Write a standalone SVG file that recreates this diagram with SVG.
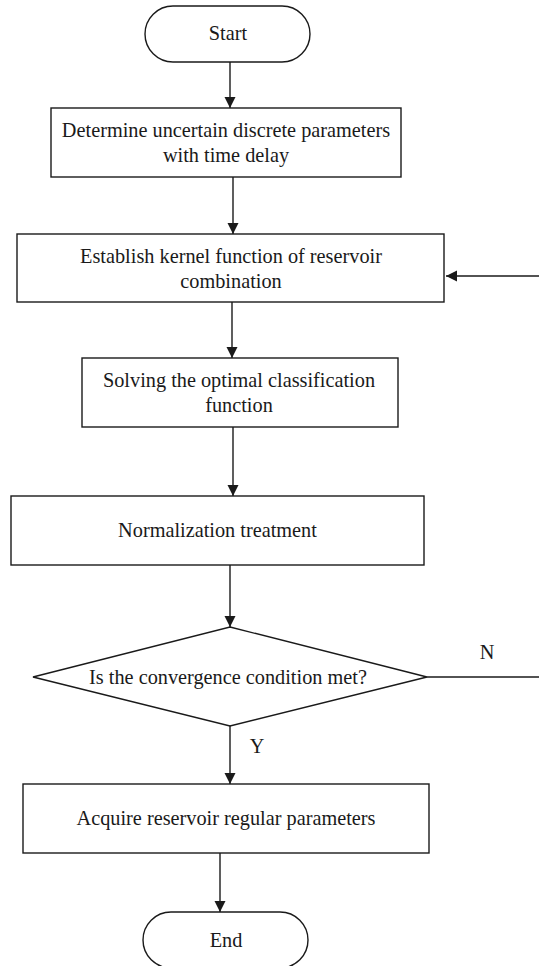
<svg xmlns="http://www.w3.org/2000/svg" width="539" height="966" viewBox="0 0 539 966">
<style>
.s{fill:#fff;stroke:#1a1a1a;stroke-width:1.4}
.t{font-family:"Liberation Serif","Times New Roman",serif;font-size:20.3px;fill:#1a1a1a;text-anchor:middle}
.c{fill:none;stroke:#1a1a1a;stroke-width:1.4}
</style>
<defs>
<marker id="ah" markerWidth="12" markerHeight="12" refX="11" refY="6" orient="auto" markerUnits="userSpaceOnUse">
<path d="M0,0.5 L11,6 L0,11.5 Z" fill="#1a1a1a"/>
</marker>
</defs>
<rect width="539" height="966" fill="#fff"/>
<g id="connectors">
<line class="c" x1="230" y1="62" x2="230" y2="108" marker-end="url(#ah)"/>
<line class="c" x1="233" y1="177" x2="233" y2="234" marker-end="url(#ah)"/>
<line class="c" x1="232" y1="302" x2="232" y2="358" marker-end="url(#ah)"/>
<line class="c" x1="233" y1="427" x2="233" y2="496" marker-end="url(#ah)"/>
<line class="c" x1="230" y1="565" x2="230" y2="627" marker-end="url(#ah)"/>
<line class="c" x1="230" y1="726" x2="230" y2="784" marker-end="url(#ah)"/>
<line class="c" x1="220" y1="853" x2="220" y2="912" marker-end="url(#ah)"/>
<line class="c" x1="427" y1="677" x2="539" y2="677"/>
<line class="c" x1="539" y1="276" x2="446" y2="276" marker-end="url(#ah)"/>
<text class="t" x="487" y="659">N</text>
<text class="t" x="257" y="753">Y</text>
</g>
<g id="start">
<rect class="s" x="145" y="6" width="165" height="56" rx="28"/>
<text class="t" x="228" y="40">Start</text>
</g>
<g id="determine">
<rect class="s" x="51" y="108" width="350" height="69"/>
<text class="t" x="226" y="137">Determine uncertain discrete parameters</text>
<text class="t" x="226" y="162">with time delay</text>
</g>
<g id="establish">
<rect class="s" x="17" y="234" width="427" height="68"/>
<text class="t" x="231" y="263">Establish kernel function of reservoir</text>
<text class="t" x="231" y="288">combination</text>
</g>
<g id="solving">
<rect class="s" x="82" y="358" width="316" height="69"/>
<text class="t" x="239" y="387">Solving the optimal classification</text>
<text class="t" x="239" y="412">function</text>
</g>
<g id="normalization">
<rect class="s" x="11" y="496" width="413" height="69"/>
<text class="t" x="217.5" y="537">Normalization treatment</text>
</g>
<g id="decision">
<polygon class="s" points="230,627 427,677 230,726 33,677"/>
<text class="t" x="228" y="684">Is the convergence condition met?</text>
</g>
<g id="acquire">
<rect class="s" x="23" y="784" width="406" height="69"/>
<text class="t" x="226" y="825">Acquire reservoir regular parameters</text>
</g>
<g id="end">
<rect class="s" x="143" y="912" width="165" height="56" rx="28"/>
<text class="t" x="226" y="947">End</text>
</g>
</svg>
